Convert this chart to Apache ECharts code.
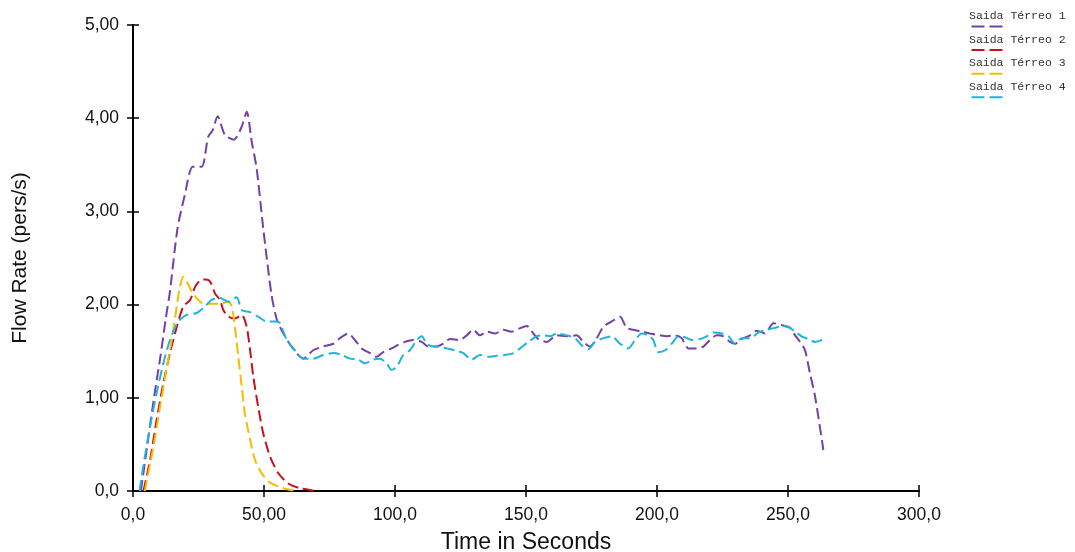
<!DOCTYPE html>
<html>
<head>
<meta charset="utf-8">
<title>Flow Rate</title>
<script src="https://cdn.jsdelivr.net/npm/echarts@6/dist/echarts.min.js"></script>
<style>
  html, body { margin: 0; padding: 0; background: #fff; }
  #chart { width: 1075px; height: 552px; }
</style>
</head>
<body>
<div id="chart"></div>
<script>
// Exit flow rates over time, [time (s), flow (pers/s)]
const seriesNames = ['Saida Térreo 1', 'Saida Térreo 2', 'Saida Térreo 3', 'Saida Térreo 4'];
const seriesColors = ['#7440a6', '#c4111b', '#f7bc00', '#1fb4dc'];

const terreo1 = [
  [3, 0], [5.5, 0.5], [8, 1.0], [10.5, 1.45], [12.5, 1.85], [14.1, 2.14], [17, 2.82], [19.8, 3.18],
  [22.8, 3.48], [26.2, 3.48], [28.7, 3.8], [30.4, 3.87], [32.3, 4.02], [35.1, 3.82], [38.5, 3.77],
  [41.5, 3.91], [43.4, 4.07], [45.3, 3.75], [47.2, 3.46], [49.7, 2.82], [52.9, 2.1], [55, 1.83],
  [58, 1.66], [61, 1.53], [65, 1.42], [68.8, 1.51], [72.6, 1.55], [76.5, 1.58], [79, 1.64],
  [82.2, 1.69], [84.7, 1.62], [87.3, 1.53], [90.5, 1.48], [93, 1.44], [95.5, 1.49], [98.7, 1.53],
  [101.3, 1.57], [103.8, 1.6], [107, 1.62], [110.2, 1.6], [112.7, 1.55], [115.9, 1.55], [118.4, 1.58],
  [121, 1.63], [124.8, 1.62], [127.4, 1.67], [129.9, 1.73], [132.4, 1.67], [135, 1.71], [138.2, 1.69],
  [141.3, 1.73], [144.5, 1.71], [147.1, 1.74], [150.3, 1.77], [152.8, 1.69], [154.7, 1.63], [157.9, 1.6],
  [161.7, 1.67], [165.5, 1.66], [169.3, 1.67], [171.9, 1.6], [174.4, 1.55], [177, 1.64], [179.5, 1.76],
  [182.7, 1.82], [185.9, 1.87], [188.4, 1.75], [191, 1.73], [194.2, 1.71], [197.3, 1.69], [201.1, 1.67],
  [203.7, 1.66], [206.9, 1.67], [209.4, 1.64], [212, 1.53], [215.1, 1.53], [217.7, 1.55], [220.2, 1.62],
  [222.8, 1.67], [225.3, 1.66], [227.9, 1.6], [229.8, 1.58], [232.3, 1.63], [235.5, 1.67], [238.1, 1.72],
  [241.2, 1.69], [244.4, 1.8], [247.6, 1.78], [250.8, 1.75], [252.7, 1.67], [254.6, 1.6], [256.5, 1.51],
  [258.4, 1.26], [260.3, 1.02], [263.5, 0.44]
];

const terreo2 = [
  [4, 0], [6.5, 0.33], [9, 0.76], [11.6, 1.16], [14.1, 1.48], [16.7, 1.76], [19.2, 1.98], [21.8, 2.05],
  [23.7, 2.19], [25.6, 2.26], [27.5, 2.27], [29.4, 2.25], [31.3, 2.12], [33.2, 2.05], [34.5, 1.94],
  [36.4, 1.87], [38.9, 1.85], [41.5, 1.89], [43.4, 1.76], [44.7, 1.51], [45.9, 1.23], [47.8, 0.9],
  [49.7, 0.62], [52.3, 0.37], [55.5, 0.19], [59.3, 0.08], [63.7, 0.03], [70, 0]
];

const terreo3 = [
  [4.5, 0], [7.8, 0.48], [10.3, 0.9], [12.9, 1.33], [14.8, 1.62], [16.7, 1.98], [17.9, 2.19], [19.2, 2.3],
  [20.5, 2.25], [22.4, 2.14], [24.3, 2.07], [26.8, 2.01], [30, 2.01], [33.2, 2.01], [36.4, 2.03],
  [37.7, 1.98], [38.9, 1.76], [40.2, 1.44], [41.5, 1.12], [42.7, 0.83], [44.7, 0.55], [46.6, 0.33],
  [49.1, 0.19], [52.3, 0.09], [57.4, 0.03], [62, 0]
];

const terreo4 = [
  [2.5, 0], [3.9, 0.26], [6.5, 0.69], [9, 1.05], [11.6, 1.37], [14.1, 1.62], [17.3, 1.82], [20.5, 1.89],
  [24.3, 1.91], [27.5, 1.98], [30, 2.05], [33.2, 2.07], [36.4, 2.03], [39.6, 2.08], [41.5, 1.94],
  [44.7, 1.92], [47.8, 1.87], [51, 1.82], [54.8, 1.82], [56.1, 1.8], [58.7, 1.62], [61.8, 1.51],
  [65, 1.42], [68.8, 1.42], [72.6, 1.46], [76.5, 1.48], [79.6, 1.46], [82.8, 1.42], [86, 1.41],
  [88.5, 1.37], [91.7, 1.41], [94.3, 1.42], [96.8, 1.37], [98.7, 1.3], [100.6, 1.33], [103.2, 1.46],
  [105.7, 1.51], [108.3, 1.62], [110.2, 1.66], [112.1, 1.58], [114.6, 1.55], [117.2, 1.55], [119.7, 1.53],
  [122.9, 1.51], [126.1, 1.48], [129.3, 1.41], [132.4, 1.46], [135.6, 1.44], [138.8, 1.45], [142, 1.46],
  [145.2, 1.48], [147.7, 1.53], [150.9, 1.6], [154.1, 1.66], [156.6, 1.67], [159.2, 1.66], [161.7, 1.69],
  [165.5, 1.67], [168.7, 1.64], [171.3, 1.56], [173.8, 1.52], [176.3, 1.6], [179.5, 1.64], [182.7, 1.66],
  [185.9, 1.58], [189.1, 1.53], [191.6, 1.62], [194.2, 1.69], [196.7, 1.67], [198.6, 1.62], [200.5, 1.49],
  [203.1, 1.51], [205.6, 1.58], [208.2, 1.66], [210.7, 1.65], [213.2, 1.62], [216.4, 1.63], [219, 1.66],
  [221.5, 1.7], [224.7, 1.69], [227.3, 1.66], [229.8, 1.58], [232.3, 1.64], [235.5, 1.64], [238.7, 1.7],
  [241.9, 1.73], [245, 1.75], [247.6, 1.77], [250.1, 1.76], [252.7, 1.71], [255.2, 1.66], [257.8, 1.63],
  [260.3, 1.6], [262.9, 1.62], [264.1, 1.63]
];

const xTickLabels = { 0: '0,0', 50: '50,00', 100: '100,0', 150: '150,0', 200: '200,0', 250: '250,0', 300: '300,0' };
const yTickLabels = { 0: '0,0', 1: '1,00', 2: '2,00', 3: '3,00', 4: '4,00', 5: '5,00' };

const seriesData = [terreo1, terreo2, terreo3, terreo4];

const chart = echarts.init(document.getElementById('chart'), null, { renderer: 'canvas' });

const axisFont = { fontFamily: 'Liberation Sans, Arial, sans-serif', fontSize: 17.5, color: '#111' };
const axisLineStyle = { color: '#000', width: 2 };

// Legend: text with a short dashed swatch underneath
const legendGraphics = [];
seriesNames.forEach((name, i) => {
  const top = 10 + i * 23.6;
  legendGraphics.push({
    type: 'text', left: 969, top: top,
    style: { text: name, font: '11.5px "Liberation Mono", monospace', fill: '#333' }
  });
  legendGraphics.push({
    type: 'line', left: 969, top: top + 14,
    shape: { x1: 0, y1: 0, x2: 32, y2: 0 },
    style: { stroke: seriesColors[i], lineWidth: 2, lineDash: [13, 5] }
  });
});

const option = {
  animation: false,
  backgroundColor: '#fff',
  grid: { left: 133, right: 156, top: 25, bottom: 61, containLabel: false, outerBoundsMode: 'none' },
  xAxis: [
    {
      type: 'value', min: 0, max: 300, interval: 50, position: 'bottom',
      name: 'Time in Seconds', nameLocation: 'middle', nameGap: 40,
      nameTextStyle: { fontFamily: 'Liberation Sans, Arial, sans-serif', fontSize: 23, color: '#111' },
      axisLine: { show: true, onZero: false, lineStyle: axisLineStyle },
      axisTick: { show: true, inside: false, length: 6, lineStyle: { color: '#000', width: 1.5 } },
      axisLabel: Object.assign({ margin: 15, formatter: v => xTickLabels[v] }, axisFont),
      splitLine: { show: false }
    },
    {
      type: 'value', min: 0, max: 300, interval: 50, position: 'bottom',
      axisLine: { show: false, onZero: false },
      axisTick: { show: true, inside: true, length: 6, lineStyle: { color: '#000', width: 1.5 } },
      axisLabel: { show: false },
      splitLine: { show: false }
    }
  ],
  yAxis: [
    {
      type: 'value', min: 0, max: 5, interval: 1, position: 'left',
      name: 'Flow Rate (pers/s)', nameLocation: 'middle', nameGap: 102, nameRotate: 90,
      nameTextStyle: { fontFamily: 'Liberation Sans, Arial, sans-serif', fontSize: 21, color: '#111' },
      axisLine: { show: true, onZero: false, lineStyle: axisLineStyle },
      axisTick: { show: true, inside: false, length: 6, lineStyle: { color: '#000', width: 1.5 } },
      axisLabel: Object.assign({ margin: 14, formatter: v => yTickLabels[v] }, axisFont),
      splitLine: { show: false }
    },
    {
      type: 'value', min: 0, max: 5, interval: 1, position: 'left',
      axisLine: { show: false, onZero: false },
      axisTick: { show: true, inside: true, length: 6, lineStyle: { color: '#000', width: 1.5 } },
      axisLabel: { show: false },
      splitLine: { show: false }
    }
  ],
  series: seriesNames.map((name, i) => ({
    name: name,
    type: 'line',
    xAxisIndex: 0,
    yAxisIndex: 0,
    data: seriesData[i],
    showSymbol: false,
    smooth: 0.25,
    lineStyle: { color: seriesColors[i], width: 2, type: [11, 5] },
    itemStyle: { color: seriesColors[i] }
  })),
  graphic: legendGraphics
};

chart.setOption(option);
</script>
</body>
</html>
